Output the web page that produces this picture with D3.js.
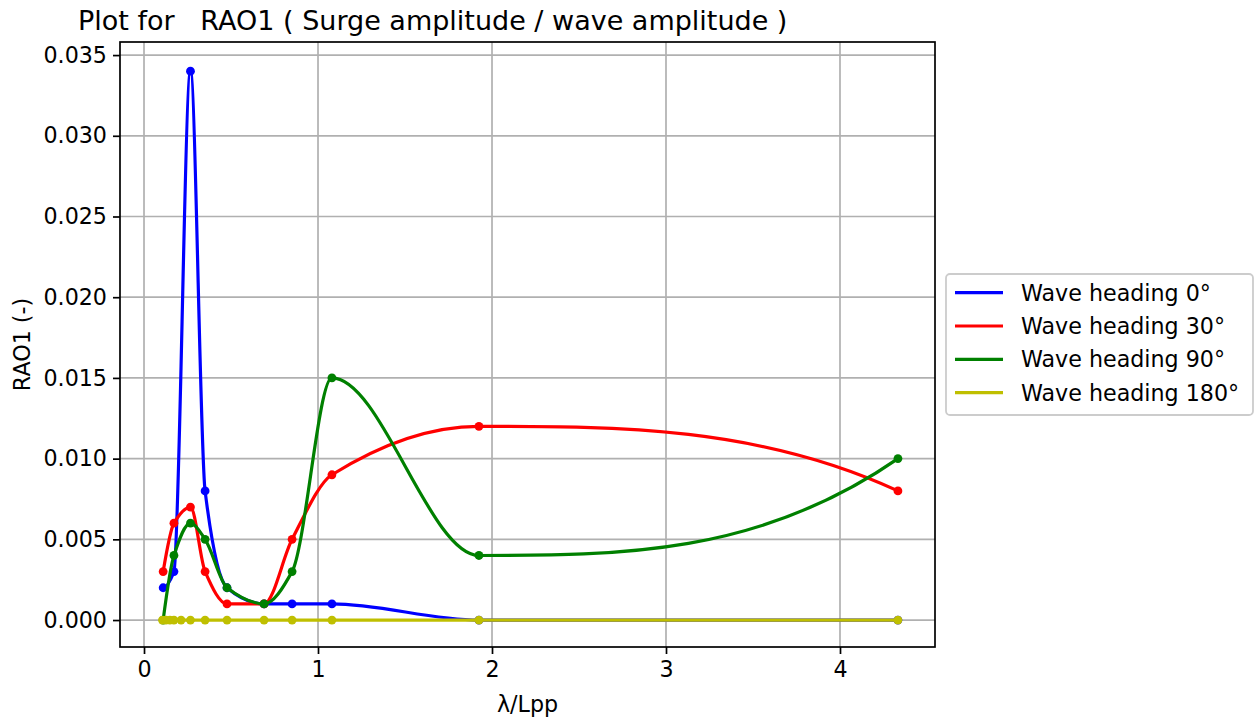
<!DOCTYPE html>
<html>
<head>
<meta charset="utf-8">
<script src="https://cdn.jsdelivr.net/npm/d3@7"></script>
<style>
  html, body { margin: 0; padding: 0; background: #ffffff; }
  svg { display: block; }
  text { font-family: "DejaVu Sans", sans-serif; fill: #000; }
</style>
</head>
<body>
<svg id="chart" width="1259" height="719"></svg>
<script>
// Wavelength / ship length ratios
const lambdaMain = [0.11, 0.172, 0.267, 0.351, 0.477, 0.69, 0.851, 1.08, 1.925, 4.333];
const lambda180 = [0.106, 0.126, 0.149, 0.172, 0.213, 0.267, 0.351, 0.477, 0.69, 0.851, 1.08, 1.925, 4.333];

// Surge RAO per wave heading
const rao0   = [0.002, 0.003, 0.034, 0.008, 0.002, 0.001, 0.001, 0.001, 0.000, 0.000];
const rao30  = [0.003, 0.006, 0.007, 0.003, 0.001, 0.001, 0.005, 0.009, 0.012, 0.008];
const rao90  = [0.000, 0.004, 0.006, 0.005, 0.002, 0.001, 0.003, 0.015, 0.004, 0.010];
const rao180 = [0, 0, 0, 0, 0, 0, 0, 0, 0, 0, 0, 0, 0];

const seriesNames = ["Wave heading 0°", "Wave heading 30°", "Wave heading 90°", "Wave heading 180°"];
const seriesColors = ["#0000ff", "#ff0000", "#008000", "#bfbf00"];

const xTicks = [0, 1, 2, 3, 4];
const yTicks = [0, 0.005, 0.01, 0.015, 0.02, 0.025, 0.03, 0.035];

const titleText = "Plot for   RAO1 ( Surge amplitude / wave amplitude )";
const xLabelText = "λ/Lpp";
const yLabelText = "RAO1 (-)";

const series = [
  { name: seriesNames[0], color: seriesColors[0], x: lambdaMain, y: rao0 },
  { name: seriesNames[1], color: seriesColors[1], x: lambdaMain, y: rao30 },
  { name: seriesNames[2], color: seriesColors[2], x: lambdaMain, y: rao90 },
  { name: seriesNames[3], color: seriesColors[3], x: lambda180, y: rao180 }
];

// Monotone piecewise-cubic Hermite curve (Fritsch–Carlson weights,
// one-sided three-point end slopes), emitted as Bezier segments.
function curvePchip(context) {
  let xs, ys;
  function edgeSlope(h0, h1, m0, m1) {
    let d = ((2 * h0 + h1) * m0 - h0 * m1) / (h0 + h1);
    if (Math.sign(d) !== Math.sign(m0)) d = 0;
    else if (Math.sign(m0) !== Math.sign(m1) && Math.abs(d) > 3 * Math.abs(m0)) d = 3 * m0;
    return d;
  }
  return {
    areaStart() {}, areaEnd() {},
    lineStart() { xs = []; ys = []; },
    point(x, y) { xs.push(+x); ys.push(+y); },
    lineEnd() {
      const n = xs.length;
      if (!n) return;
      context.moveTo(xs[0], ys[0]);
      if (n === 1) return;
      if (n === 2) { context.lineTo(xs[1], ys[1]); return; }
      const h = [], s = [];
      for (let i = 0; i < n - 1; i++) {
        h[i] = xs[i + 1] - xs[i];
        s[i] = (ys[i + 1] - ys[i]) / h[i];
      }
      const m = new Array(n).fill(0);
      for (let k = 1; k < n - 1; k++) {
        if (s[k - 1] * s[k] <= 0) { m[k] = 0; continue; }
        const w1 = 2 * h[k] + h[k - 1];
        const w2 = h[k] + 2 * h[k - 1];
        m[k] = (w1 + w2) / (w1 / s[k - 1] + w2 / s[k]);
      }
      m[0] = edgeSlope(h[0], h[1], s[0], s[1]);
      m[n - 1] = edgeSlope(h[n - 2], h[n - 3], s[n - 2], s[n - 3]);
      for (let i = 0; i < n - 1; i++) {
        context.bezierCurveTo(
          xs[i] + h[i] / 3, ys[i] + m[i] * h[i] / 3,
          xs[i + 1] - h[i] / 3, ys[i + 1] - m[i + 1] * h[i] / 3,
          xs[i + 1], ys[i + 1]);
      }
    }
  };
}

const svg = d3.select("#chart");
const plot = { left: 120, right: 935, top: 42, bottom: 647 };

const x = d3.scaleLinear().domain([-0.138, 4.546]).range([plot.left, plot.right]);
const y = d3.scaleLinear().domain([-0.00167, 0.03581]).range([plot.bottom, plot.top]);

const fontSize = 22.2;

// grid
const grid = svg.append("g");
grid.selectAll(".gx").data(xTicks).enter().append("line")
  .attr("x1", d => x(d)).attr("x2", d => x(d))
  .attr("y1", plot.top).attr("y2", plot.bottom)
  .attr("stroke", "#b0b0b0").attr("stroke-width", 1.7);
grid.selectAll(".gy").data(yTicks).enter().append("line")
  .attr("y1", d => y(d)).attr("y2", d => y(d))
  .attr("x1", plot.left).attr("x2", plot.right)
  .attr("stroke", "#b0b0b0").attr("stroke-width", 1.7);

// axes
const fmtY = d3.format(".3f");
const xAxis = d3.axisBottom(x).tickValues(xTicks).tickFormat(d3.format("d")).tickSize(7).tickPadding(7);
const yAxis = d3.axisLeft(y).tickValues(yTicks).tickFormat(fmtY).tickSize(7).tickPadding(6);

const gx = svg.append("g").attr("transform", `translate(0,${plot.bottom})`).call(xAxis);
const gy = svg.append("g").attr("transform", `translate(${plot.left},0)`).call(yAxis);
[gx, gy].forEach(g => {
  g.select(".domain").remove();
  g.selectAll(".tick line").attr("stroke", "#000").attr("stroke-width", 1.7);
  g.selectAll(".tick text").attr("font-size", fontSize).attr("font-family", "DejaVu Sans").attr("fill", "#000");
});

// clip for lines
svg.append("clipPath").attr("id", "clip").append("rect")
  .attr("x", plot.left).attr("y", plot.top)
  .attr("width", plot.right - plot.left).attr("height", plot.bottom - plot.top);

const line = d3.line().curve(curvePchip).x(d => x(d[0])).y(d => y(d[1]));
const marks = svg.append("g").attr("clip-path", "url(#clip)");

series.forEach(s => {
  const pts = s.x.map((v, i) => [v, s.y[i]]);
  const g = marks.append("g");
  g.append("path").datum(pts)
    .attr("d", line).attr("fill", "none")
    .attr("stroke", s.color).attr("stroke-width", 3.2)
    .attr("stroke-linejoin", "round").attr("stroke-linecap", "square");
  g.selectAll("circle").data(pts).enter().append("circle")
    .attr("cx", d => x(d[0])).attr("cy", d => y(d[1]))
    .attr("r", 4.4).attr("fill", s.color);
});

// frame
svg.append("rect")
  .attr("x", plot.left).attr("y", plot.top)
  .attr("width", plot.right - plot.left).attr("height", plot.bottom - plot.top)
  .attr("fill", "none").attr("stroke", "#000").attr("stroke-width", 1.7);

// title & labels
svg.append("text").attr("x", 78).attr("y", 30)
  .attr("font-size", 27).attr("xml:space", "preserve").style("white-space", "pre")
  .text(titleText);

svg.append("text").attr("x", (plot.left + plot.right) / 2).attr("y", 712)
  .attr("text-anchor", "middle").attr("font-size", fontSize)
  .text(xLabelText);

svg.append("text")
  .attr("transform", `translate(30,${(plot.top + plot.bottom) / 2}) rotate(-90)`)
  .attr("text-anchor", "middle").attr("font-size", fontSize)
  .text(yLabelText);

// legend
const legend = svg.append("g");
legend.append("rect")
  .attr("x", 946).attr("y", 274).attr("width", 307).attr("height", 141)
  .attr("rx", 4).attr("ry", 4)
  .attr("fill", "#ffffff").attr("fill-opacity", 0.8)
  .attr("stroke", "#cccccc").attr("stroke-width", 1.8);

const rows = legend.selectAll(".row").data(series).enter().append("g")
  .attr("transform", (d, i) => `translate(0,${292.7 + i * 33.3})`);
rows.append("line")
  .attr("x1", 955).attr("x2", 1003).attr("y1", 0).attr("y2", 0)
  .attr("stroke", d => d.color).attr("stroke-width", 3.2);
rows.append("text")
  .attr("x", 1021).attr("y", 0).attr("dy", "0.36em")
  .attr("font-size", fontSize)
  .text(d => d.name);
</script>
</body>
</html>
